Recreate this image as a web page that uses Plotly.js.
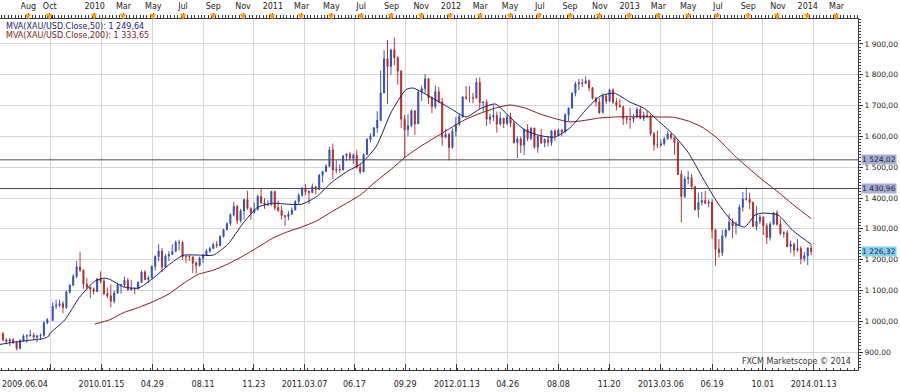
<!DOCTYPE html>
<html><head><meta charset="utf-8">
<script src="https://cdn.plot.ly/plotly-3.0.1.min.js"></script>
<style>html,body{margin:0;padding:0;background:#fff}#chart{width:900px;height:392px}</style>
</head><body><div id="chart"></div>
<script>
// ---- weekly XAU/USD bars (mid-week dates) ----
const dates2009 = ['2009-06-10','2009-06-17','2009-06-24','2009-07-01','2009-07-08','2009-07-15','2009-07-22','2009-07-29','2009-08-05','2009-08-12','2009-08-19','2009-08-26','2009-09-02','2009-09-09','2009-10-07','2009-10-14','2009-10-21','2009-10-28','2009-11-04','2009-11-11','2009-11-18','2009-11-25','2009-12-02','2009-12-09','2009-12-16','2009-12-23','2009-12-30'];
const open2009  = [960,940,935,940,932,912,937,952,953,955,948,953,955,995,1003,1049,1052,1057,1045,1095,1117,1146,1176,1166,1121,1111,1104];
const high2009  = [965,945,945,945,935,942,958,958,972,963,955,960,1000,1010,1062,1070,1070,1065,1100,1120,1153,1196,1226,1168,1140,1112,1110];
const low2009   = [935,925,920,926,906,910,935,930,950,940,932,940,950,990,1000,1040,1045,1026,1040,1090,1115,1140,1160,1105,1104,1075,1087];
const close2009 = [940,935,940,932,912,937,952,953,955,948,953,955,995,1006,1049,1052,1057,1045,1095,1117,1146,1176,1166,1121,1111,1104,1097];

const dates2010 = ['2010-01-06','2010-01-13','2010-01-20','2010-01-27','2010-02-03','2010-02-10','2010-02-17','2010-02-24','2010-03-03','2010-03-10','2010-03-17','2010-03-24','2010-03-31','2010-04-07','2010-04-14','2010-04-21','2010-04-28','2010-05-05','2010-05-12','2010-05-19','2010-05-26','2010-06-02','2010-06-09','2010-06-16','2010-06-23','2010-06-30','2010-07-07','2010-07-14','2010-07-21','2010-07-28','2010-08-04','2010-08-11','2010-08-18','2010-08-25','2010-09-01','2010-09-08','2010-09-15','2010-09-22','2010-09-29','2010-10-06','2010-10-13','2010-10-20','2010-10-27','2010-11-03','2010-11-10','2010-11-17','2010-11-24','2010-12-01','2010-12-08','2010-12-15','2010-12-22','2010-12-29'];
const open2010  = [1097,1138,1130,1090,1083,1065,1092,1118,1118,1133,1102,1106,1105,1126,1160,1136,1141,1179,1210,1228,1176,1212,1217,1227,1256,1256,1210,1210,1209,1189,1181,1205,1215,1228,1236,1249,1246,1275,1297,1317,1346,1372,1327,1358,1395,1367,1353,1362,1405,1385,1378,1380];
const high2010  = [1140,1162,1137,1110,1120,1100,1125,1122,1145,1140,1135,1110,1130,1165,1166,1148,1180,1214,1250,1238,1218,1228,1250,1262,1265,1262,1215,1215,1210,1195,1210,1218,1235,1242,1255,1260,1279,1300,1321,1350,1387,1378,1365,1398,1424,1370,1385,1410,1431,1400,1393,1424];
const low2010   = [1095,1123,1085,1075,1045,1058,1090,1090,1110,1100,1100,1088,1104,1125,1133,1125,1140,1165,1195,1160,1175,1195,1215,1224,1230,1200,1190,1195,1157,1155,1178,1190,1212,1222,1235,1238,1244,1272,1295,1310,1340,1315,1320,1330,1362,1330,1350,1360,1380,1365,1375,1375];
const close2010 = [1138,1130,1090,1083,1065,1092,1118,1118,1133,1102,1106,1105,1126,1160,1136,1141,1179,1210,1228,1176,1212,1217,1227,1256,1256,1210,1210,1209,1189,1181,1205,1215,1228,1236,1249,1246,1275,1297,1317,1346,1372,1327,1358,1395,1367,1353,1362,1405,1385,1378,1380,1421];

const dates2011 = ['2011-01-05','2011-01-12','2011-01-19','2011-01-26','2011-02-02','2011-02-09','2011-02-16','2011-02-23','2011-03-02','2011-03-09','2011-03-16','2011-03-23','2011-03-30','2011-04-06','2011-04-13','2011-04-20','2011-04-27','2011-05-04','2011-05-11','2011-05-18','2011-05-25','2011-06-01','2011-06-08','2011-06-15','2011-06-22','2011-06-29','2011-07-06','2011-07-13','2011-07-20','2011-07-27','2011-08-03','2011-08-10','2011-08-17','2011-08-24','2011-08-31','2011-09-07','2011-09-14','2011-09-21','2011-09-28','2011-10-05','2011-10-12','2011-10-19','2011-10-26','2011-11-02','2011-11-09','2011-11-16','2011-11-23','2011-11-30','2011-12-07','2011-12-14','2011-12-21','2011-12-28'];
const open2011  = [1421,1369,1360,1343,1340,1348,1361,1388,1409,1429,1421,1418,1437,1428,1474,1486,1503,1556,1491,1493,1491,1536,1542,1529,1539,1500,1485,1541,1590,1601,1628,1652,1741,1852,1827,1880,1856,1812,1656,1622,1635,1683,1641,1744,1755,1787,1725,1697,1745,1712,1598,1606];
const high2011  = [1424,1392,1375,1345,1358,1370,1393,1415,1437,1445,1426,1447,1440,1478,1488,1510,1566,1577,1523,1510,1540,1545,1550,1545,1557,1512,1545,1595,1610,1630,1682,1813,1880,1912,1885,1921,1860,1815,1670,1672,1688,1685,1748,1765,1803,1790,1730,1765,1760,1725,1625,1612];
const low2011   = [1360,1355,1330,1309,1328,1345,1360,1381,1404,1409,1381,1416,1412,1426,1450,1485,1500,1462,1480,1483,1490,1520,1522,1510,1495,1478,1484,1540,1580,1600,1612,1650,1740,1705,1800,1830,1768,1627,1532,1600,1630,1605,1640,1715,1740,1705,1675,1690,1707,1570,1594,1522];
const close2011 = [1369,1360,1343,1340,1348,1361,1388,1409,1429,1421,1418,1437,1428,1474,1486,1503,1556,1491,1493,1491,1536,1542,1529,1539,1500,1485,1541,1590,1601,1628,1652,1741,1852,1827,1880,1856,1812,1656,1622,1635,1683,1641,1744,1755,1787,1725,1697,1745,1712,1598,1606,1564];

const dates2012 = ['2012-01-04','2012-01-11','2012-01-18','2012-01-25','2012-02-01','2012-02-08','2012-02-15','2012-02-22','2012-02-29','2012-03-07','2012-03-14','2012-03-21','2012-03-28','2012-04-04','2012-04-11','2012-04-18','2012-04-25','2012-05-02','2012-05-09','2012-05-16','2012-05-23','2012-05-30','2012-06-06','2012-06-13','2012-06-20','2012-06-27','2012-07-04','2012-07-11','2012-07-18','2012-07-25','2012-08-01','2012-08-08','2012-08-15','2012-08-22','2012-08-29','2012-09-05','2012-09-12','2012-09-19','2012-09-26','2012-10-03','2012-10-10','2012-10-17','2012-10-24','2012-10-31','2012-11-07','2012-11-14','2012-11-21','2012-11-28','2012-12-05','2012-12-12','2012-12-19','2012-12-26'];
const open2012  = [1564,1617,1640,1665,1728,1725,1725,1725,1775,1710,1711,1656,1663,1668,1640,1659,1642,1663,1643,1580,1592,1572,1623,1593,1627,1565,1600,1579,1590,1580,1618,1603,1620,1615,1670,1692,1740,1770,1774,1772,1780,1758,1724,1712,1677,1731,1714,1751,1711,1701,1696,1658];
const high2012  = [1627,1663,1675,1730,1764,1763,1741,1790,1792,1715,1720,1673,1700,1680,1680,1660,1670,1677,1650,1600,1600,1625,1640,1630,1628,1605,1625,1593,1600,1620,1623,1625,1625,1675,1694,1744,1778,1786,1787,1795,1785,1760,1728,1725,1740,1738,1754,1755,1724,1722,1700,1668];
const low2012   = [1560,1600,1633,1660,1718,1710,1707,1722,1688,1680,1634,1640,1650,1612,1635,1627,1636,1630,1576,1530,1546,1540,1584,1588,1560,1547,1575,1565,1568,1570,1585,1600,1600,1612,1650,1690,1730,1750,1760,1770,1747,1720,1697,1673,1675,1705,1712,1705,1684,1693,1637,1640];
const close2012 = [1617,1640,1665,1728,1725,1725,1725,1775,1710,1711,1656,1663,1668,1640,1659,1642,1663,1643,1580,1592,1572,1623,1593,1627,1565,1600,1579,1590,1580,1618,1603,1620,1615,1670,1692,1740,1770,1774,1772,1780,1758,1724,1712,1677,1731,1714,1751,1711,1701,1696,1658,1656];

const dates2013 = ['2013-01-02','2013-01-09','2013-01-16','2013-01-23','2013-01-30','2013-02-06','2013-02-13','2013-02-20','2013-02-27','2013-03-06','2013-03-13','2013-03-20','2013-03-27','2013-04-03','2013-04-10','2013-04-17','2013-04-24','2013-05-01','2013-05-08','2013-05-15','2013-05-22','2013-05-29','2013-06-05','2013-06-12','2013-06-19','2013-06-26','2013-07-03','2013-07-10','2013-07-17','2013-07-24','2013-07-31','2013-08-07','2013-08-14','2013-08-21','2013-08-28','2013-09-04','2013-09-11','2013-09-18','2013-09-25','2013-10-02','2013-10-09','2013-10-16','2013-10-23','2013-10-30','2013-11-06','2013-11-13','2013-11-20','2013-11-27','2013-12-04','2013-12-11','2013-12-18','2013-12-25'];
const open2013  = [1656,1656,1662,1687,1658,1668,1667,1609,1573,1572,1576,1592,1608,1596,1580,1477,1405,1462,1466,1437,1363,1386,1392,1383,1387,1297,1234,1223,1277,1296,1322,1310,1312,1370,1396,1396,1386,1308,1325,1338,1310,1272,1315,1352,1315,1285,1287,1243,1250,1231,1236,1203];
const high2013  = [1693,1672,1694,1695,1680,1683,1670,1615,1619,1590,1598,1617,1610,1600,1590,1490,1470,1488,1478,1440,1417,1420,1424,1395,1397,1300,1267,1297,1300,1348,1334,1324,1379,1420,1434,1418,1388,1375,1345,1340,1318,1323,1355,1360,1333,1292,1296,1262,1255,1267,1244,1225];
const low2013   = [1625,1644,1661,1656,1650,1660,1602,1554,1562,1565,1570,1590,1590,1540,1475,1321,1400,1445,1428,1359,1337,1376,1380,1370,1269,1180,1207,1212,1270,1295,1270,1282,1310,1356,1392,1364,1306,1295,1316,1280,1251,1262,1312,1310,1280,1271,1240,1222,1210,1225,1185,1193];
const close2013 = [1656,1662,1687,1658,1668,1667,1609,1573,1572,1576,1592,1608,1596,1580,1477,1405,1462,1466,1437,1363,1386,1392,1383,1387,1297,1234,1223,1277,1296,1322,1310,1312,1370,1396,1396,1386,1308,1325,1338,1310,1272,1315,1352,1315,1285,1287,1243,1250,1231,1236,1203,1213];

const dates2014 = ['2014-01-01','2014-01-08'];
const open2014  = [1213,1238];
const high2014  = [1240,1250];
const low2014   = [1182,1215];
const close2014 = [1238,1226.32];

// ---- moving averages ----
const ma50Dates = ['2009-06-04','2009-07-01','2009-08-01','2009-09-01','2009-09-12','2009-10-01','2009-11-01','2009-12-01','2010-01-01','2010-01-20','2010-02-01','2010-03-01','2010-04-01','2010-05-01','2010-06-01','2010-07-01','2010-08-01','2010-09-01','2010-10-01','2010-11-01','2010-12-01','2011-01-01','2011-02-01','2011-03-01','2011-04-01','2011-05-01','2011-06-01','2011-07-01','2011-08-01','2011-09-01','2011-10-01','2011-10-15','2011-11-01','2011-12-01','2012-01-01','2012-02-01','2012-03-01','2012-04-01','2012-05-01','2012-06-01','2012-07-01','2012-08-01','2012-09-01','2012-10-01','2012-11-01','2012-12-01','2013-01-01','2013-02-01','2013-03-01','2013-04-01','2013-05-01','2013-06-01','2013-07-01','2013-08-01','2013-08-25','2013-09-15','2013-10-01','2013-11-01','2013-12-01','2014-01-01','2014-01-08'];
const ma50Values = [925,932,938,944,952,960,1005,1078,1130,1140,1136,1112,1108,1140,1182,1214,1215,1215,1250,1318,1370,1383,1380,1380,1405,1450,1485,1512,1568,1680,1752,1757,1745,1718,1690,1663,1690,1705,1662,1620,1603,1598,1628,1682,1730,1740,1712,1690,1650,1605,1548,1462,1383,1322,1306,1345,1351,1345,1295,1258,1249.64];

const ma200Dates = ['2010-01-01','2010-02-01','2010-03-01','2010-04-01','2010-05-01','2010-06-01','2010-07-01','2010-08-01','2010-09-01','2010-10-01','2010-11-01','2010-12-01','2011-01-01','2011-02-01','2011-03-01','2011-04-01','2011-05-01','2011-06-01','2011-07-01','2011-08-01','2011-09-01','2011-10-01','2011-11-01','2011-12-01','2012-01-01','2012-02-01','2012-03-01','2012-04-01','2012-05-01','2012-06-01','2012-07-01','2012-08-01','2012-09-01','2012-10-01','2012-11-01','2012-12-01','2013-01-01','2013-02-01','2013-03-01','2013-04-01','2013-05-01','2013-06-01','2013-07-01','2013-08-01','2013-09-01','2013-10-01','2013-11-01','2013-12-01','2014-01-01','2014-01-08'];
const ma200Values = [991,1005,1028,1045,1064,1088,1122,1152,1166,1186,1212,1240,1270,1291,1306,1326,1355,1383,1412,1455,1494,1535,1569,1598,1628,1656,1675,1692,1702,1692,1673,1658,1647,1652,1660,1663,1664,1664,1663,1662,1650,1628,1592,1542,1498,1458,1420,1380,1342,1333.65];

// ---- reference levels and labels ----
const levelValues = [1524.02, 1430.96];
const lastPrice = 1226.32;
const ma50Last = 1249.64;
const ma200Last = 1333.65;

const bottomTickDates = ['2009-06-04','2009-10-03','2010-01-15','2010-04-29','2010-08-11','2010-11-23','2011-03-07','2011-06-17','2011-09-29','2012-01-13','2012-04-26','2012-08-08','2012-11-20','2013-03-06','2013-06-19','2013-10-01','2014-01-13'];
const bottomTickText  = ['','','2010.01.15','04.29','08.11','11.23','2011.03.07','06.17','09.29','2012.01.13','04.26','08.08','11.20','2013.03.06','06.19','10.01','2014.01.13'];
const firstDateLabel = '2009.06.04';

const topTickDates = ['2009-08-01','2009-10-01','2010-01-01','2010-03-01','2010-05-01','2010-07-01','2010-09-01','2010-11-01','2011-01-01','2011-03-01','2011-05-01','2011-07-01','2011-09-01','2011-11-01','2012-01-01','2012-03-01','2012-05-01','2012-07-01','2012-09-01','2012-11-01','2013-01-01','2013-03-01','2013-05-01','2013-07-01','2013-09-01','2013-11-01','2014-01-01','2014-03-01'];
const topTickText  = ['Aug','Oct','2010','Mar','May','Jul','Sep','Nov','2011','Mar','May','Jul','Sep','Nov','2012','Mar','May','Jul','Sep','Nov','2013','Mar','May','Jul','Sep','Nov','2014','Mar'];

const xRange = ['2009-06-04','2014-04-14'];
const dataGap = ['2009-09-13','2009-09-30'];
const yRange = [842, 1981];

// ---- build ----
const dates = [].concat(dates2009, dates2010, dates2011, dates2012, dates2013, dates2014);
const opens = [].concat(open2009, open2010, open2011, open2012, open2013, open2014);
const highs = [].concat(high2009, high2010, high2011, high2012, high2013, high2014);
const lows  = [].concat(low2009, low2010, low2011, low2012, low2013, low2014);
const closes= [].concat(close2009, close2010, close2011, close2012, close2013, close2014);

function fmt(v){
  const s = v.toFixed(2).split('.');
  const i = s[0].replace(/\B(?=(\d{3})+(?!\d))/g, ' ');
  return i + ',' + s[1];
}

const FONT = 'DejaVu Sans, Verdana, sans-serif';
const AX = '#3a3a3a';
const GRID = '#d6d6d6';

const traces = [
  {type:'candlestick', x:dates, open:opens, high:highs, low:lows, close:closes,
   xaxis:'x', yaxis:'y', whiskerwidth:0,
   increasing:{line:{color:'#2c48a8', width:0.9}, fillcolor:'#4466cc'},
   decreasing:{line:{color:'#a82828', width:0.9}, fillcolor:'#cc3535'},
   hoverinfo:'skip'},
  {type:'scatter', mode:'lines', x:ma200Dates, y:ma200Values, xaxis:'x', yaxis:'y',
   line:{color:'#7a1e1e', width:1, shape:'spline', smoothing:0.6}, hoverinfo:'skip'},
  {type:'scatter', mode:'lines', x:ma50Dates, y:ma50Values, xaxis:'x2', yaxis:'y',
   line:{color:'#1c1c5c', width:1, shape:'spline', smoothing:0.6}, hoverinfo:'skip'}
];

const shapes = levelValues.map(v => ({type:'line', xref:'paper', x0:0, x1:1, yref:'y', y0:v, y1:v,
  line:{color:'#4a4a4a', width:1}}));

const annotations = [];
annotations.push({xref:'paper', yref:'paper', x:0, y:1, xanchor:'left', yanchor:'top', xshift:4, yshift:-1,
  text:'MVA(XAU/USD.Close,50): ' + fmt(ma50Last), showarrow:false, font:{family:FONT, size:8, color:'#1c1c6a'}});
annotations.push({xref:'paper', yref:'paper', x:0, y:1, xanchor:'left', yanchor:'top', xshift:4, yshift:-10,
  text:'MVA(XAU/USD.Close,200): ' + fmt(ma200Last), showarrow:false, font:{family:FONT, size:8, color:'#7a1c1c'}});
annotations.push({xref:'paper', yref:'paper', x:1, y:0, xanchor:'right', yanchor:'bottom', xshift:-5, yshift:2,
  text:'FXCM Marketscope © 2014', showarrow:false, font:{family:FONT, size:8, color:'#333'}});
levelValues.forEach(v => annotations.push({xref:'paper', yref:'y', x:1, y:v, xanchor:'left', yanchor:'middle', xshift:3,
  text:fmt(v), showarrow:false, bgcolor:'#aab0d2', borderpad:0, font:{family:FONT, size:7.5, color:'#1a1a3a'}}));
annotations.push({xref:'paper', yref:'y', x:1, y:lastPrice, xanchor:'left', yanchor:'middle', xshift:3,
  text:fmt(lastPrice), showarrow:false, bgcolor:'#86d0ee', borderpad:0, font:{family:FONT, size:7.5, color:'#1a1a3a'}});
annotations.push({xref:'paper', yref:'paper', x:0, y:0, xanchor:'left', yanchor:'top', xshift:0, yshift:-8,
  text:firstDateLabel, showarrow:false, font:{family:FONT, size:8, color:'#222'}});
topTickDates.forEach(d => annotations.push({xref:'x2', yref:'paper', x:d, y:1, xanchor:'center', yanchor:'bottom', yshift:-4,
  text:'▼', showarrow:false, font:{family:'DejaVu Sans', size:8, color:'#f0a020'}}));

const layout = {
  width:900, height:392,
  margin:{l:0, r:42, t:19, b:22, pad:0},
  paper_bgcolor:'#ffffff', plot_bgcolor:'#ffffff',
  separators:', ',
  showlegend:false,
  hovermode:false,
  boxgap:0.55,
  font:{family:FONT, size:8, color:'#222'},
  xaxis:{type:'date', range:xRange, rangebreaks:[{bounds:dataGap}],
    tickmode:'array', tickvals:bottomTickDates, ticktext:bottomTickText,
    showgrid:true, gridcolor:GRID, gridwidth:1, zeroline:false,
    ticks:'inside', ticklen:6, tickcolor:AX, showline:true, linecolor:AX, linewidth:1,
    minor:{ticks:'inside', ticklen:2, tickcolor:AX, dtick:14*86400000, showgrid:false},
    rangeslider:{visible:false}, ticklabelstandoff:6, fixedrange:true},
  xaxis2:{type:'date', overlaying:'x', side:'top', range:xRange, rangebreaks:[{bounds:dataGap}],
    tickmode:'array', tickvals:topTickDates, ticktext:topTickText,
    showgrid:false, zeroline:false,
    ticks:'outside', ticklen:5, tickcolor:AX, showline:true, linecolor:AX, linewidth:1,
    minor:{ticks:'outside', ticklen:3, tickcolor:AX, dtick:7*86400000, showgrid:false},
    ticklabelstandoff:1, fixedrange:true},
  yaxis:{side:'right', range:yRange, dtick:100, tick0:0, tickformat:',.2f',
    showgrid:true, gridcolor:GRID, gridwidth:1, zeroline:false,
    ticks:'outside', ticklen:4, tickcolor:AX, showline:true, linecolor:AX, linewidth:1,
    minor:{ticks:'outside', ticklen:2, tickcolor:AX, dtick:10, showgrid:false},
    tickfont:{family:FONT, size:7.5, color:'#222'},
    ticklabelstandoff:0, fixedrange:true},
  shapes:shapes,
  annotations:annotations
};

Plotly.newPlot('chart', traces, layout, {staticPlot:true, displayModeBar:false});
</script>
</body></html>
